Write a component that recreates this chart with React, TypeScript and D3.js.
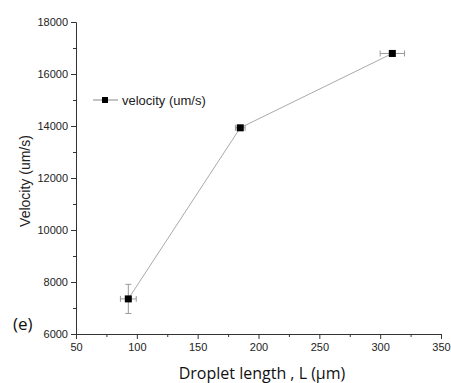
import React, { useRef, useEffect } from "react"
import * as d3 from "d3"

// droplet length (um), velocity (um/s), and error bars
const lengths = [93, 185, 310]
const velocities = [7350, 13930, 16790]
const lengthErr = [6.5, 4, 10]
const velocityErr = [560, 90, 110]

const xTicks = [50, 100, 150, 200, 250, 300, 350]
const yTicks = [6000, 8000, 10000, 12000, 14000, 16000, 18000]

const W = 451
const H = 383

export default function App() {
    const svgRef = useRef<SVGSVGElement>(null)

    useEffect(() => {
        if (!svgRef.current) return
        document.body.style.margin = "0"
        const svg = d3.select(svgRef.current)
        svg.selectAll("*").remove()

        const x = d3.scaleLinear().domain([50, 350]).range([76, 441])
        const y = d3.scaleLinear().domain([6000, 18000]).range([334, 22])

        const axisColor = "#333"
        const font = "Arial, 'Liberation Sans', sans-serif"

        // Y axis
        const yAxis = svg.append("g")
            .attr("transform", `translate(${x(50)},0)`)
            .call(d3.axisLeft(y).tickValues(yTicks).tickSize(5).tickPadding(3).tickFormat(d3.format("d")))
        yAxis.select(".domain").attr("stroke", axisColor)
        yAxis.selectAll(".tick line").attr("stroke", axisColor)
        yAxis.selectAll("text").attr("font-size", "11px").attr("font-family", font).attr("fill", "#222")
        svg.append("g")
            .attr("transform", `translate(${x(50)},0)`)
            .call(d3.axisLeft(y).tickValues(d3.range(7000, 18000, 2000)).tickSize(3).tickFormat(() => ""))
            .call(g => g.select(".domain").remove())
            .selectAll(".tick line").attr("stroke", axisColor)

        // X axis
        const xAxis = svg.append("g")
            .attr("transform", `translate(0,${y(6000)})`)
            .call(d3.axisBottom(x).tickValues(xTicks).tickSize(5).tickPadding(4))
        xAxis.select(".domain").attr("stroke", axisColor)
        xAxis.selectAll(".tick line").attr("stroke", axisColor)
        xAxis.selectAll("text").attr("font-size", "11px").attr("font-family", font).attr("fill", "#222")
        svg.append("g")
            .attr("transform", `translate(0,${y(6000)})`)
            .call(d3.axisBottom(x).tickValues(d3.range(75, 350, 50)).tickSize(3).tickFormat(() => ""))
            .call(g => g.select(".domain").remove())
            .selectAll(".tick line").attr("stroke", axisColor)

        const pts = lengths.map((l, i) => ({ l, v: velocities[i], el: lengthErr[i], ev: velocityErr[i] }))

        // connecting line
        svg.append("path")
            .datum(pts)
            .attr("fill", "none")
            .attr("stroke", "#aaa")
            .attr("stroke-width", 1)
            .attr("d", d3.line<any>().x(d => x(d.l)).y(d => y(d.v)))

        // error bars
        const eb = svg.append("g").attr("stroke", "#999").attr("stroke-width", 1)
        pts.forEach(d => {
            eb.append("line").attr("x1", x(d.l - d.el)).attr("x2", x(d.l + d.el)).attr("y1", y(d.v)).attr("y2", y(d.v))
            eb.append("line").attr("x1", x(d.l - d.el)).attr("x2", x(d.l - d.el)).attr("y1", y(d.v) - 3).attr("y2", y(d.v) + 3)
            eb.append("line").attr("x1", x(d.l + d.el)).attr("x2", x(d.l + d.el)).attr("y1", y(d.v) - 3).attr("y2", y(d.v) + 3)
            eb.append("line").attr("x1", x(d.l)).attr("x2", x(d.l)).attr("y1", y(d.v - d.ev)).attr("y2", y(d.v + d.ev))
            eb.append("line").attr("x1", x(d.l) - 3).attr("x2", x(d.l) + 3).attr("y1", y(d.v - d.ev)).attr("y2", y(d.v - d.ev))
            eb.append("line").attr("x1", x(d.l) - 3).attr("x2", x(d.l) + 3).attr("y1", y(d.v + d.ev)).attr("y2", y(d.v + d.ev))
        })

        // markers
        svg.append("g").selectAll("rect")
            .data(pts)
            .join("rect")
            .attr("x", d => x(d.l) - 3.5)
            .attr("y", d => y(d.v) - 3.5)
            .attr("width", 7)
            .attr("height", 7)
            .attr("fill", "#000")

        // legend
        const lg = svg.append("g")
        lg.append("line").attr("x1", 93).attr("x2", 118).attr("y1", 100).attr("y2", 100).attr("stroke", "#888")
        lg.append("rect").attr("x", 102).attr("y", 97).attr("width", 6).attr("height", 6).attr("fill", "#000")
        lg.append("text").attr("x", 122).attr("y", 105).attr("font-size", "13px").attr("font-family", font)
            .attr("fill", "#222").text("velocity (um/s)")

        // axis titles
        svg.append("text")
            .attr("transform", `translate(30,181) rotate(-90)`)
            .attr("text-anchor", "middle")
            .attr("font-size", "14px").attr("font-family", font).attr("fill", "#222")
            .text("Velocity (um/s)")
        svg.append("text")
            .attr("x", 262).attr("y", 379)
            .attr("text-anchor", "middle")
            .attr("font-size", "16px").attr("font-family", "'Open Sans', sans-serif").attr("fill", "#111")
            .text("Droplet length , L (μm)")
        svg.append("text")
            .attr("x", 13).attr("y", 330)
            .attr("font-size", "17px").attr("font-family", "'Open Sans', sans-serif").attr("fill", "#111")
            .text("(e)")
    }, [])

    return (
        <div style={{ position: "absolute", left: 0, top: 0 }}>
            <svg ref={svgRef} width={W} height={H} style={{ display: "block", background: "#fff" }} />
        </div>
    )
}
